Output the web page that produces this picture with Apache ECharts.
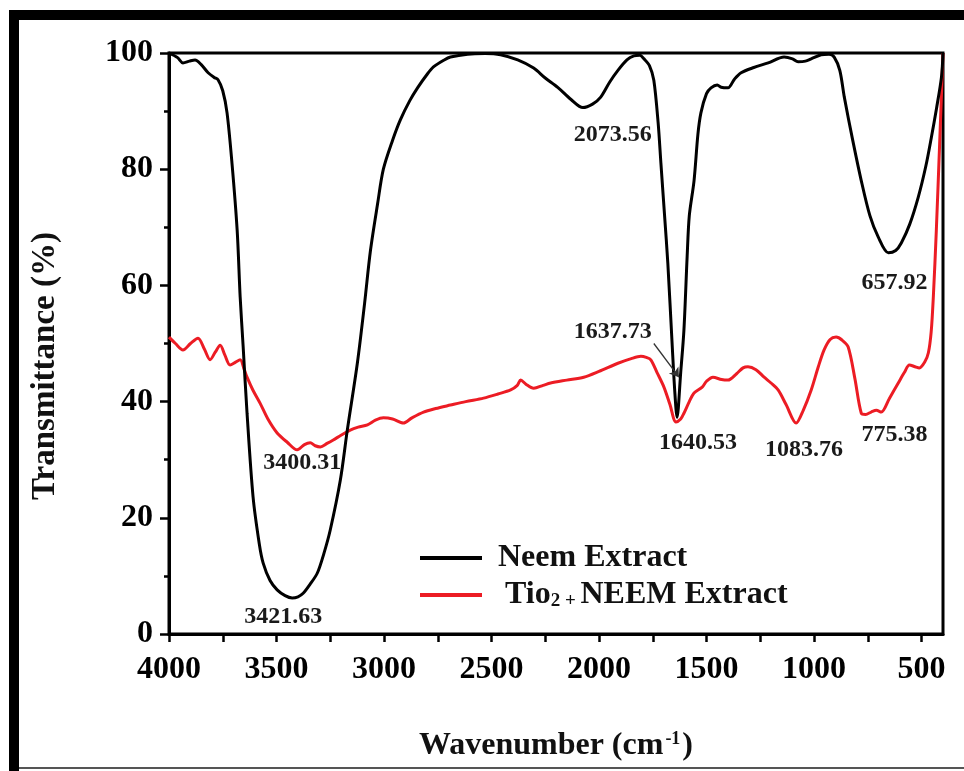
<!DOCTYPE html>
<html>
<head>
<meta charset="utf-8">
<script src="https://cdn.jsdelivr.net/npm/echarts@6/dist/echarts.min.js"></script>
<style>
html,body{margin:0;padding:0;background:#fff;}
#chart{width:964px;height:771px;}
</style>
</head>
<body>
<div id="chart"></div>
<script>
// ---- Data ----
const waveNeem = [4000,3960,3935,3905,3879,3850,3818,3790,3772,3750,3730,3707,3683,3669,3655,3637,3609,3580,3562,3530,3497,3460,3427,3400,3376,3345,3310,3280,3250,3203,3171,3124,3090,3063,3030,3003,2960,2924,2880,2844,2800,2770,2720,2691,2611,2530,2458,2378,2304,2250,2192,2130,2075,2030,1992,1950,1912,1870,1838,1810,1791,1765,1745,1725,1712,1695,1680,1660,1648,1637,1620,1605,1590,1580,1558,1540,1526,1500,1479,1450,1432,1400,1370,1339,1280,1213,1139,1100,1074,1040,1013,967,930,906,880,859,820,780,740,701,654,620,594,555,515,480,454,430,407,400];
const transNeem = [100,99.2,98.3,98.6,98.8,98.0,96.6,95.8,95.4,93.5,89.7,81,69.5,58,49.4,38,23.6,15.5,12.2,9.2,7.6,6.6,6.2,6.4,7,8.5,10.5,13.8,17.9,26.5,35,46.6,57,66,74,80,85,88.5,91.8,94,96.3,97.6,98.8,99.3,99.8,99.9,99.7,98.8,97.4,95.7,94.1,92,90.6,91.2,92.4,95,97,98.8,99.5,99.6,99,97.8,95.3,88,81,72,63.9,50,42,37.3,45,52.3,65,72,78,86,89.7,93,94,94.5,94.1,94,95.5,96.6,97.5,98.3,99.3,99,98.5,98.6,99,99.7,99.8,99.3,97,92.4,85,78,72,68.3,65.6,66,67.3,70.5,75.2,80.5,85.5,90.5,95.9,100];

const waveTio = [4000,3970,3935,3900,3865,3835,3809,3785,3762,3740,3716,3690,3669,3650,3637,3610,3576,3540,3497,3450,3404,3370,3343,3320,3296,3265,3236,3200,3157,3120,3077,3040,3003,2960,2910,2870,2816,2760,2691,2620,2537,2470,2411,2380,2364,2340,2304,2260,2225,2150,2071,2000,1912,1850,1805,1780,1759,1730,1698,1670,1642,1620,1605,1580,1558,1520,1500,1470,1430,1400,1360,1330,1307,1270,1232,1200,1167,1130,1083,1050,1013,980,953,925,897,870,841,810,780,760,734,710,687,650,608,580,556,530,510,485,468,455,445,431,415,400];
const transTio = [51.1,50,48.9,50,50.9,49,47.2,48.5,49.7,48,46.3,46.8,47.2,45.5,44.2,42,39.7,37,34.6,33,31.7,32.6,32.9,32.4,32.2,32.8,33.4,34.2,35.1,35.6,36,36.8,37.2,37,36.3,37.2,38.2,38.8,39.4,40,40.6,41.3,42,42.8,43.7,43,42.3,42.8,43.2,43.7,44.2,45.2,46.6,47.4,47.8,47.6,47.2,45,42.5,39.5,36.5,37,38,40,41.5,42.5,43.5,44.2,43.8,43.7,44.8,45.8,46,45.5,44.2,43.2,42,39.5,36.3,38.5,42,46,48.9,50.7,51.1,50.6,49.4,44,38,37.8,38.2,38.5,38.2,40.5,43.2,45,46.3,46,45.8,46.8,48.4,52,58,69.5,85,100];

const seriesNames = ['Neem Extract', 'Tio2 + NEEM Extract'];
const xTickLabels = [500,1000,1500,2000,2500,3000,3500,4000];
const xMinorTicks = [500,750,1000,1250,1500,1750,2000,2250,2500,2750,3000,3250,3500,3750,4000];

const peakText  = ['2073.56','657.92','1637.73','1640.53','1083.76','775.38','3400.31','3421.63'];
const peakWave  = [1936, 626, 1936, 1540, 1046, 626, 3380, 3469];
const peakTrans = [85.9, 60.4, 52.0, 32.9, 31.7, 34.3, 29.4, 2.9];

const arrowFrom = [1745, 50.0];
const arrowTo   = [1628, 44.2];

// ---- Chart ----
const FONT = '"Liberation Serif","Times New Roman",serif';
const chart = echarts.init(document.getElementById('chart'), null, {renderer: 'canvas'});

const zipPairs = (xs, ys) => xs.map((x, i) => [x, ys[i]]);

const option = {
  animation: false,
  backgroundColor: '#fff',
  grid: {left: 169, right: 21, top: 53, bottom: 137, show: true, borderColor: '#000', borderWidth: 3, containLabel: false},
  xAxis: {
    type: 'value', min: 400, max: 4000, inverse: true,
    axisLine: {show: true, lineStyle: {color: '#000', width: 3}},
    axisTick: {show: true, customValues: xMinorTicks, length: 8, lineStyle: {color: '#000', width: 2.5}},
    axisLabel: {customValues: xTickLabels, formatter: v => String(v), color: '#000', fontFamily: FONT, fontWeight: 'bold', fontSize: 32, margin: 20},
    splitLine: {show: false}
  },
  yAxis: {
    type: 'value', min: 0, max: 100, interval: 20,
    axisLine: {show: true, lineStyle: {color: '#000', width: 3}},
    axisTick: {show: true, length: 9, lineStyle: {color: '#000', width: 2.5}},
    minorTick: {show: true, splitNumber: 2, length: 5, lineStyle: {color: '#000', width: 2.5}},
    axisLabel: {formatter: v => String(v), color: '#000', fontFamily: FONT, fontWeight: 'bold', fontSize: 32, margin: 16},
    splitLine: {show: false}
  },
  legend: {
    data: seriesNames,
    orient: 'vertical', left: 415, top: 537,
    icon: 'rect', itemWidth: 62, itemHeight: 4, itemGap: 5,
    textStyle: {
      color: '#111', fontFamily: FONT, fontWeight: 'bold', fontSize: 32,
      rich: {
        n: {fontFamily: FONT, fontWeight: 'bold', fontSize: 32, color: '#111', padding: [0, 0, 0, 11]},
        t: {fontFamily: FONT, fontWeight: 'bold', fontSize: 32, color: '#111', padding: [0, 0, 0, 18]},
        s: {fontFamily: FONT, fontWeight: 'bold', fontSize: 19, color: '#111', verticalAlign: 'bottom', padding: [10, 0, 0, 0]},
        a: {fontFamily: FONT, fontWeight: 'bold', fontSize: 32, color: '#111'}
      }
    },
    formatter: function (name) {
      if (name === seriesNames[0]) return '{n|' + name + '}';
      return '{t|Tio}{s|2 + }{a|NEEM Extract}';
    }
  },
  series: [
    {
      name: seriesNames[1], type: 'line', data: zipPairs(waveTio, transTio),
      showSymbol: false, smooth: 0.3, z: 2,
      color: '#ec1c24',
      lineStyle: {color: '#ec1c24', width: 3}
    },
    {
      name: seriesNames[0], type: 'line', data: zipPairs(waveNeem, transNeem),
      showSymbol: false, smooth: 0.3, z: 3,
      color: '#000',
      lineStyle: {color: '#000', width: 3},
      markLine: {
        silent: true, animation: false,
        symbol: ['none', 'arrow'], symbolSize: 9,
        lineStyle: {color: '#333', width: 1.3, type: 'solid'},
        label: {show: false},
        data: [[{coord: arrowFrom}, {coord: arrowTo}]]
      }
    },
    {
      name: 'peaks', type: 'scatter', symbolSize: 0, z: 4,
      data: peakWave.map((x, i) => ({value: [x, peakTrans[i]], name: peakText[i]})),
      itemStyle: {opacity: 1},
      label: {
        show: true, position: 'inside', formatter: p => p.name, opacity: 1,
        color: '#1a1a1a', fontFamily: FONT, fontWeight: 'bold', fontSize: 24
      },
      emphasis: {disabled: true},
      silent: true
    }
  ],
  graphic: [
    {type: 'rect', shape: {x: 9, y: 10, width: 955, height: 10}, style: {fill: '#000'}, z: 100},
    {type: 'rect', shape: {x: 9, y: 10, width: 10, height: 761}, style: {fill: '#000'}, z: 100},
    {type: 'rect', shape: {x: 19, y: 767, width: 945, height: 2}, style: {fill: '#555'}, z: 100},
    {
      type: 'text', x: 45, y: 366, rotation: Math.PI / 2, z: 100,
      style: {text: 'Transmittance (%)', fill: '#111', fontFamily: FONT, fontWeight: 'bold', fontSize: 33,
              align: 'center', verticalAlign: 'middle', textAlign: 'center', textVerticalAlign: 'middle'}
    },
    {
      type: 'text', x: 556, y: 746, z: 100,
      style: {
        text: '{a|Wavenumber (cm}{s|-1}{a|)}', fill: '#111',
        align: 'center', verticalAlign: 'middle', textAlign: 'center', textVerticalAlign: 'middle',
        rich: {
          a: {fontFamily: FONT, fontWeight: 'bold', fontSize: 32, fill: '#111'},
          s: {fontFamily: FONT, fontWeight: 'bold', fontSize: 18, fill: '#111', verticalAlign: 'top', padding: [0, 2, 14, 2]}
        }
      }
    }
  ]
};
chart.setOption(option);
</script>
</body>
</html>
